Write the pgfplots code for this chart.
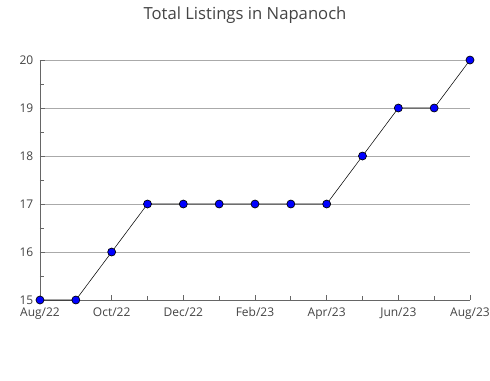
\documentclass[border=0pt]{standalone}
\usepackage{pgfplots}
\pgfplotsset{compat=1.18}
\usepackage{fontspec}
\setmainfont{Open Sans}
\definecolor{axisgray}{HTML}{666666}
\definecolor{gridgray}{HTML}{AAAAAA}
\definecolor{textgray}{HTML}{444444}
\begin{document}
\begin{tikzpicture}[x=0.75pt,y=0.75pt]
\path[fill=white] (0,0) rectangle (490,380);
\node[font=\fontsize{12.5}{14}\selectfont, text=textgray] at (245,365) {Total Listings in Napanoch};
\begin{axis}[
  at={(40*0.75pt,80*0.75pt)}, anchor=south west,
  scale only axis, width=322.5pt, height=180pt,
  xmin=0, xmax=12, ymin=15, ymax=20,
  axis x line*=bottom, axis y line*=left,
  axis line style={axisgray, line width=0.6pt},
  xtick={0,2,...,12},
  xticklabels={Aug/22,Oct/22,Dec/22,Feb/23,Apr/23,Jun/23,Aug/23},
  minor xtick={1,3,...,11},
  ytick={15,...,20},
  minor ytick={15.5,16.5,...,19.5},
  tick align=inside,
  major tick length=4pt, minor tick length=3pt,
  tick style={axisgray, line width=0.6pt},
  ymajorgrids, major grid style={gridgray, line width=0.6pt},
  ticklabel style={font=\fontsize{9}{10}\selectfont, text=textgray},
  /pgf/number format/assume math mode=true,
  xticklabel style={yshift=-0.5pt, text height=1.6ex, text depth=0.35ex},
  yticklabel style={xshift=-1.5pt},
  clip=false,
]
\addplot[black, line width=0.4pt, mark=*, mark size=3pt,
  mark options={fill=blue, draw=black, line width=0.5pt}]
  coordinates {(0,15) (1,15) (2,16) (3,17) (4,17) (5,17) (6,17) (7,17) (8,17) (9,18) (10,19) (11,19) (12,20)};
\end{axis}
\pgfresetboundingbox
\path[use as bounding box] (0,0) rectangle (490,380);
\end{tikzpicture}
\end{document}
